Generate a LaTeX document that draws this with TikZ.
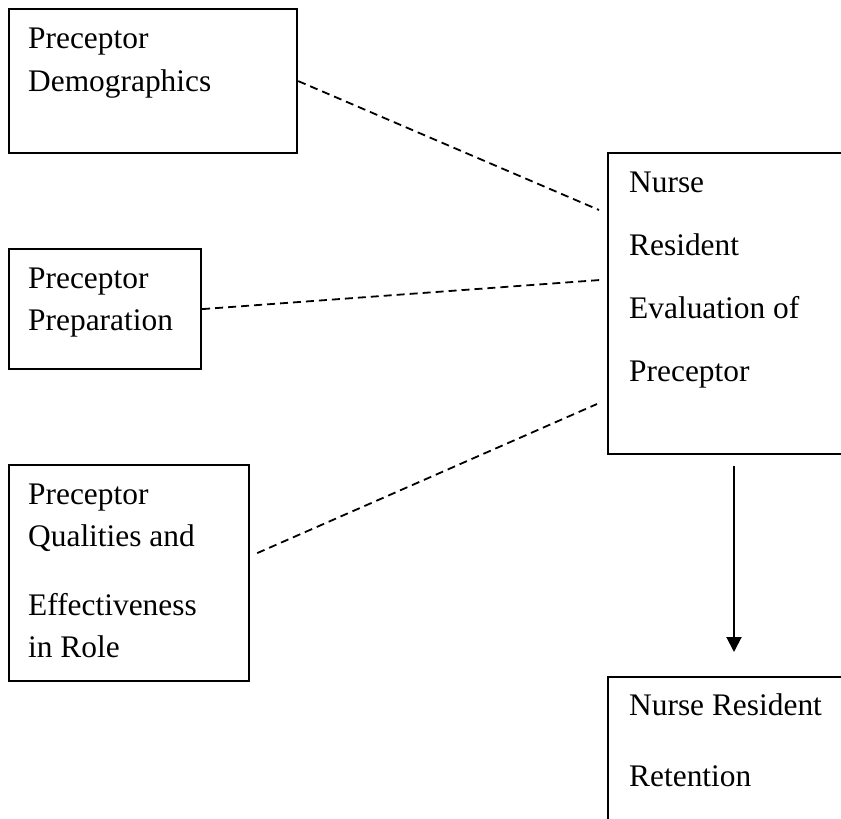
\documentclass[tikz,border=0pt]{standalone}
\usepackage{fontspec}
\setmainfont{Liberation Serif}
\usetikzlibrary{arrows.meta,calc}
\tikzset{
  box/.style={draw=black, line width=2.2pt, rectangle, inner sep=0pt, anchor=north west},
  lbl/.style={inner sep=0pt, anchor=base west, font=\fontsize{31.4}{38}\selectfont},
  link/.style={draw=black, line width=1.8pt, dash pattern=on 8pt off 5pt},
  flow/.style={draw=black, line width=2pt, -{Triangle[width=15pt,length=15pt]}}
}
\begin{document}
\begin{tikzpicture}[x=1pt,y=-1pt]
\useasboundingbox (0,0) rectangle (841,819);
\clip (0,0) rectangle (841,819);
\fill[white] (0,0) rectangle (841,819);
% boxes
\node[box, minimum width=288pt, minimum height=144pt] (b1) at (8,8) {};
\node[box, minimum width=192pt, minimum height=120pt] (b2) at (8,248) {};
\node[box, minimum width=240pt, minimum height=216pt] (b3) at (8,464) {};
\node[box, minimum width=280pt, minimum height=301pt] (b4) at (607,152) {};
\node[box, minimum width=280pt, minimum height=200pt] (b5) at (607,676) {};
% labels
\node[lbl] (t1a) at (28,48) {Preceptor};
\node[lbl] (t1b) at (28,91) {Demographics};
\node[lbl] (t2a) at (28,288) {Preceptor};
\node[lbl] (t2b) at (28,330) {Preparation};
\node[lbl] (t3a) at (28,504) {Preceptor};
\node[lbl] (t3b) at (28,546) {Qualities and};
\node[lbl] (t3c) at (28,615) {Effectiveness};
\node[lbl] (t3d) at (28,657) {in Role};
\node[lbl] (t4a) at (629,192) {Nurse};
\node[lbl] (t4b) at (629,255) {Resident};
\node[lbl] (t4c) at (629,318) {Evaluation of};
\node[lbl] (t4d) at (629,381) {Preceptor};
\node[lbl] (t5a) at (629,715) {Nurse Resident};
\node[lbl] (t5b) at (629,786) {Retention};
% connectors
\draw[link] (b1.east) -- ($(b4.north west)+(-8,58)$);
\draw[link] (b2.east) -- ($(b4.north west)+(-7,128)$);
\draw[link] ($(b3.east)+(7,-20)$) -- ($(b4.north west)+(-10,252)$);
\draw[flow] ($(b4.south west)+(127,11)$) -- ($(b5.north west)+(127,-24)$);
\end{tikzpicture}
\end{document}
